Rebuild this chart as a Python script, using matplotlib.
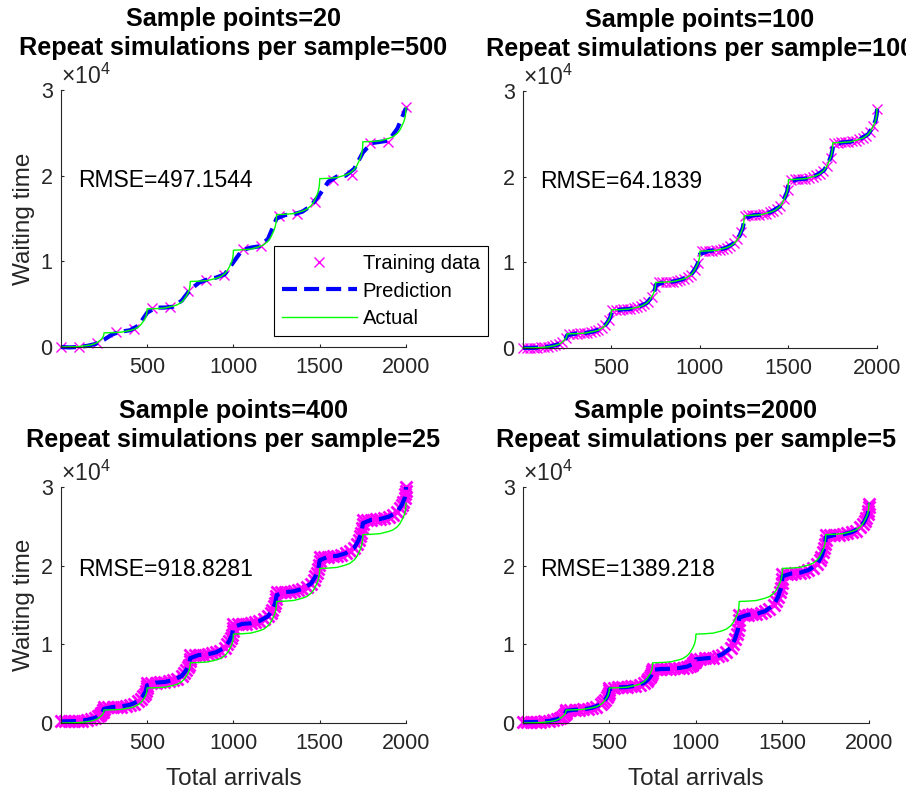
import numpy as np
import matplotlib.pyplot as plt

plt.rcParams['font.family'] = 'Liberation Sans'
plt.rcParams['mathtext.fontset'] = 'custom'
plt.rcParams['mathtext.rm'] = 'Liberation Sans'
plt.rcParams['mathtext.it'] = 'Liberation Sans:italic'

# actual waiting time curve (same in every panel)
actual_x = [1, 50, 100, 150, 175, 200, 215, 225, 235, 242, 247, 249,
            250, 300, 350, 400, 425, 450, 465, 475, 485, 492, 497, 499,
            500, 550, 600, 650, 675, 700, 715, 725, 735, 742, 747, 749,
            750, 800, 850, 900, 925, 950, 965, 975, 985, 992, 997, 999,
            1000, 1050, 1100, 1150, 1175, 1200, 1215, 1225, 1235, 1242, 1247, 1249,
            1250, 1300, 1350, 1400, 1425, 1450, 1465, 1475, 1485, 1492, 1497, 1499,
            1500, 1550, 1600, 1650, 1675, 1700, 1715, 1725, 1735, 1742, 1747, 1749,
            1750, 1800, 1850, 1900, 1925, 1950, 1965, 1975, 1985, 1992, 1997, 1999,
            2000]
actual_y = [0, 17, 50, 165, 248, 413, 578, 743, 924, 1089, 1287, 1452,
            1650, 1678, 1734, 1930, 2070, 2350, 2630, 2910, 3218, 3498, 3834, 4114,
            4450, 4482, 4546, 4770, 4930, 5250, 5570, 5890, 6242, 6562, 6946, 7266,
            7650, 7687, 7760, 8015, 8198, 8563, 8928, 9293, 9694, 10059, 10497, 10862,
            11300, 11342, 11425, 11715, 11923, 12338, 12753, 13168, 13624, 14039, 14537, 14952,
            15450, 15492, 15576, 15870, 16080, 16500, 16920, 17340, 17802, 18222, 18726, 19146,
            19650, 19693, 19779, 20080, 20295, 20725, 21155, 21585, 22058, 22488, 23004, 23434,
            23950, 23990, 24070, 24350, 24550, 24950, 25350, 25750, 26190, 26590, 27070, 27470,
            27950]

# panel 1: 20 sample points
train1_x = [1, 106, 211, 317, 422, 527, 632, 737, 843, 948,
            1053, 1158, 1264, 1369, 1474, 1579, 1685, 1790, 1895, 2000]
train1_y = [0, 0, 470, 1710, 2100, 4550, 4660, 6490, 7850, 8430,
            11430, 11740, 15350, 15510, 16980, 19510, 20090, 23790, 23980, 27980]
pred1_x = [1, 50, 100, 150, 200, 250, 300, 350, 400, 450, 500, 550, 600, 650,
           700, 750, 800, 850, 900, 950, 1000, 1050, 1100, 1150, 1200, 1250, 1300,
           1350, 1400, 1450, 1500, 1550, 1600, 1650, 1700, 1750, 1800, 1850, 1900,
           1950, 2000]
pred1_y = [0, -50, 0, 120, 350, 850, 1500, 1800, 1950, 2500, 4000, 4600, 4600, 4700,
           5400, 6700, 7500, 7900, 8100, 8500, 9900, 11300, 11600, 11750, 12600, 15000, 15400,
           15500, 15800, 16500, 17800, 19300, 19900, 20000, 20800, 22700, 23800, 23950, 24100,
           25500, 27900]

# panel 2: 100 sample points
train2_x = [1, 21, 41, 62, 82, 102, 122, 142, 162, 183, 203, 223, 243,
            263, 283, 304, 324, 344, 364, 384, 405, 425, 445, 465, 485,
            506, 526, 546, 566, 586, 606, 627, 647, 667, 687, 707, 728, 748,
            768, 788, 808, 829, 849, 869, 889, 909, 930, 950, 970, 990,
            1011, 1031, 1051, 1071, 1091, 1112, 1132, 1152, 1172, 1192, 1212, 1233,
            1253, 1273, 1293, 1313, 1334, 1354, 1374, 1394, 1414, 1435, 1455, 1475, 1495,
            1515, 1536, 1556, 1576, 1596, 1616, 1637, 1657, 1677, 1697, 1717, 1738,
            1758, 1778, 1798, 1818, 1839, 1859, 1879, 1899, 1919, 1939, 1960, 1980, 2000]
train2_y = [0, 10, 20, 30, 40, 60, 90, 150, 210, 300, 450, 700, 1120,
            1660, 1670, 1690, 1700, 1730, 1780, 1860, 1960, 2070, 2290, 2630, 3220,
            4460, 4470, 4480, 4500, 4530, 4570, 4650, 4750, 4880, 5090, 5410, 5990, 7110,
            7670, 7680, 7700, 7730, 7760, 7840, 7950, 8090, 8270, 8560, 9110, 9910,
            11310, 11330, 11340, 11380, 11410, 11480, 11590, 11720, 11900, 12210, 12670, 13540,
            15450, 15470, 15490, 15520, 15550, 15590, 15690, 15830, 16000, 16250, 16630, 17340, 18470,
            19660, 19680, 19700, 19740, 19780, 19870, 19990, 20150, 20340, 20660, 21240, 22230,
            23960, 23970, 23990, 24020, 24050, 24110, 24210, 24350, 24510, 24750, 25190, 25950, 27950]

# prediction grid shared by panels 2-4
pred_x = [1, 50, 100, 150, 200, 225, 242, 249,
          250, 300, 350, 400, 450, 475, 492, 499,
          500, 550, 600, 650, 700, 725, 742, 749,
          750, 800, 850, 900, 950, 975, 992, 999,
          1000, 1050, 1100, 1150, 1200, 1225, 1242, 1249,
          1250, 1300, 1350, 1400, 1450, 1475, 1492, 1499,
          1500, 1550, 1600, 1650, 1700, 1725, 1742, 1749,
          1750, 1800, 1850, 1900, 1950, 1975, 1992, 1999,
          2000]
pred2_y = [0, 17, 50, 165, 413, 743, 1089, 1380,
           1500, 1678, 1734, 1930, 2350, 2910, 3498, 3950,
           4200, 4482, 4546, 4770, 5250, 5890, 6562, 7100,
           7350, 7687, 7760, 8015, 8563, 9293, 10059, 10650,
           10950, 11342, 11425, 11715, 12338, 13168, 14039, 14750,
           15100, 15492, 15576, 15870, 16500, 17340, 18222, 18950,
           19300, 19693, 19779, 20080, 20725, 21585, 22488, 23200,
           23600, 23990, 24070, 24350, 24950, 25750, 26590, 27350,
           27900]

# panels 3 and 4: dense sample points (band of markers)
dense_x = [1, 25, 50, 75, 100, 125, 150, 175, 200, 215, 225, 235, 242, 247, 249,
           250, 275, 300, 325, 350, 375, 400, 425, 450, 465, 475, 485, 492, 497, 499,
           500, 525, 550, 575, 600, 625, 650, 675, 700, 715, 725, 735, 742, 747, 749,
           750, 775, 800, 825, 850, 875, 900, 925, 950, 965, 975, 985, 992, 997, 999,
           1000, 1025, 1050, 1075, 1100, 1125, 1150, 1175, 1200, 1215, 1225, 1235, 1242, 1247, 1249,
           1250, 1275, 1300, 1325, 1350, 1375, 1400, 1425, 1450, 1465, 1475, 1485, 1492, 1497, 1499,
           1500, 1525, 1550, 1575, 1600, 1625, 1650, 1675, 1700, 1715, 1725, 1735, 1742, 1747, 1749,
           1750, 1775, 1800, 1825, 1850, 1875, 1900, 1925, 1950, 1965, 1975, 1985, 1992, 1997, 1999,
           2000]
train3_y = [200, 209, 218, 236, 254, 308, 380, 470, 650, 830, 1010, 1208, 1388, 1604, 1784,
            2000, 2016, 2031, 2062, 2093, 2186, 2310, 2465, 2775, 3085, 3395, 3736, 4046, 4418, 4728,
            5100, 5118, 5135, 5170, 5205, 5310, 5450, 5625, 5975, 6325, 6675, 7060, 7410, 7830, 8180,
            8600, 8620, 8640, 8679, 8719, 8837, 8995, 9193, 9588, 9983, 10378, 10812, 11207, 11681, 12076,
            12550, 12570, 12591, 12631, 12672, 12793, 12955, 13158, 13563, 13968, 14373, 14818, 15223, 15709, 16114,
            16600, 16623, 16645, 16690, 16735, 16870, 17050, 17275, 17725, 18175, 18625, 19120, 19570, 20110, 20560,
            21100, 21124, 21147, 21194, 21241, 21382, 21570, 21805, 22275, 22745, 23215, 23732, 24202, 24766, 25236,
            25800, 25821, 25842, 25884, 25926, 26052, 26220, 26430, 26850, 27270, 27690, 28152, 28572, 29076, 29496,
            30000]
pred3_y = [200, 218, 254, 380, 650, 1010, 1388, 1784,
           1800, 2031, 2093, 2310, 2775, 3395, 4046, 4728,
           4800, 5135, 5205, 5450, 5975, 6675, 7410, 8180,
           8250, 8640, 8719, 8995, 9588, 10378, 11207, 12076,
           12200, 12591, 12672, 12955, 13563, 14373, 15223, 16114,
           16250, 16645, 16735, 17050, 17725, 18625, 19570, 20560,
           20700, 21147, 21241, 21570, 22275, 23215, 24202, 25236,
           25400, 25842, 25926, 26220, 26850, 27690, 28572, 29496,
           30000]
train4_y = [100, 108, 116, 131, 147, 193, 255, 333, 488, 643, 798, 968, 1123, 1309, 1464,
            1650, 1664, 1679, 1707, 1736, 1821, 1935, 2078, 2363, 2648, 2933, 3246, 3531, 3873, 4158,
            4500, 4512, 4524, 4547, 4571, 4641, 4735, 4853, 5088, 5323, 5558, 5816, 6051, 6333, 6568,
            6850, 6857, 6863, 6876, 6889, 6928, 6980, 7045, 7175, 7305, 7435, 7578, 7708, 7864, 7994,
            8150, 8178, 8206, 8261, 8317, 8483, 8705, 8983, 9538, 10093, 10648, 11258, 11813, 12479, 13034,
            13700, 13726, 13753, 13805, 13858, 14015, 14225, 14488, 15013, 15538, 16063, 16640, 17165, 17795, 18320,
            18950, 18975, 18999, 19048, 19097, 19244, 19440, 19685, 20175, 20665, 21155, 21694, 22184, 22772, 23262,
            23850, 23870, 23891, 23931, 23972, 24093, 24255, 24458, 24863, 25268, 25673, 26118, 26523, 27009, 27414,
            27900]
pred4_y = [100, 116, 147, 255, 488, 798, 1123, 1464,
           1550, 1679, 1736, 1935, 2363, 2933, 3531, 4158,
           4300, 4524, 4571, 4735, 5088, 5558, 6051, 6568,
           6750, 6863, 6889, 6980, 7175, 7435, 7708, 7994,
           8100, 8206, 8317, 8705, 9538, 10648, 11813, 13034,
           13400, 13753, 13858, 14225, 15013, 16063, 17165, 18320,
           18650, 18999, 19097, 19440, 20175, 21155, 22184, 23262,
           23600, 23891, 23972, 24255, 24863, 25673, 26523, 27414,
           27900]

titles = ['Sample points=20\nRepeat simulations per sample=500',
          'Sample points=100\nRepeat simulations per sample=100',
          'Sample points=400\nRepeat simulations per sample=25',
          'Sample points=2000\nRepeat simulations per sample=5']
rmse_labels = ['RMSE=497.1544', 'RMSE=64.1839', 'RMSE=918.8281', 'RMSE=1389.218']

panels = [
    (train1_x, train1_y, pred1_x, pred1_y),
    (train2_x, train2_y, pred_x, pred2_y),
    (dense_x, train3_y, pred_x, pred3_y),
    (dense_x, train4_y, pred_x, pred4_y),
]

W, H = 906, 794
# axes boxes in pixels: left, right, top, bottom
boxes = [(61, 406, 90, 347), (523, 877, 91, 348), (61, 406, 487, 723), (523, 869, 487, 723)]
title_pads = [25, 25, 29, 29]
marker_style = [(7, 1.0), (7, 1.0), (8, 2.0), (8, 2.0)]

fig = plt.figure(figsize=(W / 100, H / 100), dpi=100)
axc = '#262626'
axes = []
for i, (tx, ty, px, py) in enumerate(panels):
    l, r, t, b = boxes[i]
    ax = fig.add_axes([l / W, 1 - b / H, (r - l) / W, (b - t) / H])
    ms, mew = marker_style[i]
    ax.plot(tx, ty, 'x', color=(1, 0, 1), ms=ms, mew=mew, clip_on=False, label='Training data')
    ax.plot(px, py, '--', color=(0, 0, 1), lw=3, dashes=(3.6, 1.7), clip_on=False, label='Prediction')
    ax.plot(actual_x, actual_y, '-', color=(0, 1, 0), lw=1, clip_on=False, label='Actual')
    ax.set_xlim(1, 2000)
    ax.set_ylim(0, 30000)
    ax.set_xticks([500, 1000, 1500, 2000])
    ax.set_yticks([0, 10000, 20000, 30000])
    ax.set_yticklabels(['0', '1', '2', '3'])
    for s in ['top', 'right']:
        ax.spines[s].set_visible(False)
    for s in ['left', 'bottom']:
        ax.spines[s].set_color(axc)
        ax.spines[s].set_linewidth(0.8)
    ax.tick_params(direction='in', length=2.5, width=0.8, colors=axc, labelsize=15.5)
    ax.tick_params(axis='x', pad=7)
    ax.tick_params(axis='y', pad=6)
    ax.text(0.0, 1.025, r'$\times10^{4}$', transform=ax.transAxes, fontsize=16.5,
            color=axc, ha='left', va='baseline')
    ax.set_title(titles[i], fontsize=18.2, fontweight='bold', pad=title_pads[i],
                 linespacing=1.27)
    ax.text(100, 18700, rmse_labels[i], fontsize=16.5, va='baseline')
    if i % 2 == 0:
        ax.set_ylabel('Waiting time', fontsize=17.5, color=axc)
        ax.yaxis.set_label_coords(-0.075, 0.5)
    if i >= 2:
        ax.set_xlabel('Total arrivals', fontsize=17.5, color=axc)
        ax.xaxis.set_label_coords(0.5, -0.19)
    axes.append(ax)

leg = axes[0].legend(loc='upper left', bbox_to_anchor=(274 / W, 1 - 246 / H),
                     bbox_transform=fig.transFigure, fontsize=14.5, fancybox=False,
                     edgecolor='black', framealpha=1, borderaxespad=0,
                     handlelength=3.7, handletextpad=0.3, labelspacing=0.42, borderpad=0.4)
leg.get_frame().set_linewidth(0.8)

plt.savefig('out.png', dpi=100)
